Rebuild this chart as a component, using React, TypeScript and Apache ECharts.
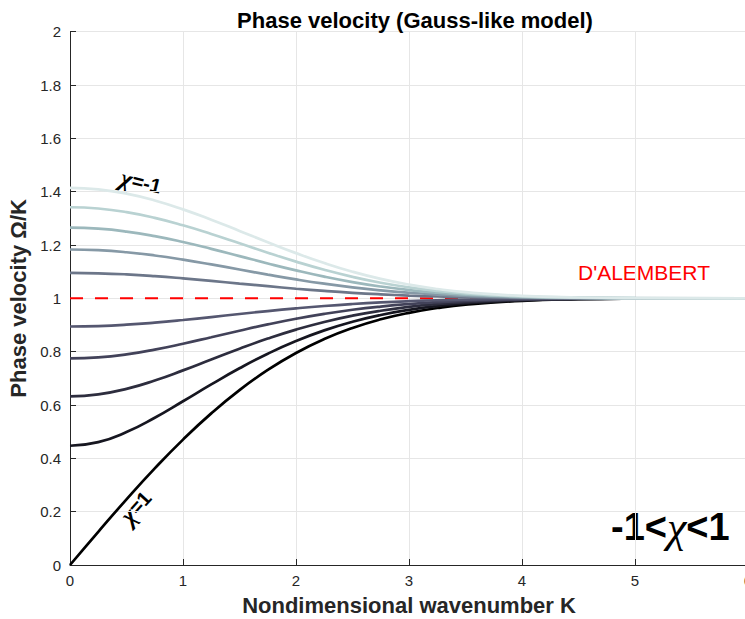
import React, { useEffect, useRef } from 'react';
import * as echarts from 'echarts';

// Nondimensional wavenumber samples
const K = [0, 0.25, 0.5, 0.75, 1, 1.25, 1.5, 1.75, 2, 2.25, 2.5, 2.75, 3, 3.25, 3.5, 4, 4.5, 5, 6];

// Phase velocity Ω/K, one array per χ
const vChiM10 = [1.4142, 1.4087, 1.3926, 1.3671, 1.3337, 1.2949, 1.2529, 1.2104, 1.1696, 1.1323, 1.0998, 1.0728, 1.0514, 1.035, 1.0231, 1.0091, 1.0032, 1.001, 1.0001];
const vChiM08 = [1.3416, 1.337, 1.3235, 1.302, 1.274, 1.2415, 1.2066, 1.1713, 1.1377, 1.1071, 1.0806, 1.0586, 1.0413, 1.0281, 1.0185, 1.0073, 1.0025, 1.0008, 1.0];
const vChiM06 = [1.2649, 1.2612, 1.2505, 1.2334, 1.2113, 1.1857, 1.1584, 1.1309, 1.1049, 1.0813, 1.061, 1.0443, 1.0311, 1.0212, 1.0139, 1.0055, 1.0019, 1.0006, 1.0];
const vChiM04 = [1.1832, 1.1806, 1.1729, 1.1608, 1.1452, 1.1272, 1.1081, 1.089, 1.071, 1.0549, 1.0411, 1.0298, 1.0209, 1.0142, 1.0093, 1.0037, 1.0013, 1.0004, 1.0];
const vChiM02 = [1.0954, 1.094, 1.0899, 1.0834, 1.075, 1.0655, 1.0554, 1.0455, 1.0361, 1.0278, 1.0207, 1.015, 1.0105, 1.0071, 1.0047, 1.0018, 1.0006, 1.0002, 1.0];
const vChiP02 = [0.8944, 0.8962, 0.9012, 0.909, 0.9188, 0.9299, 0.9413, 0.9524, 0.9625, 0.9714, 0.9788, 0.9848, 0.9894, 0.9928, 0.9953, 0.9982, 0.9994, 0.9998, 1.0];
const vChiP04 = [0.7746, 0.7786, 0.7901, 0.8078, 0.8298, 0.854, 0.8787, 0.9022, 0.9235, 0.9419, 0.9572, 0.9693, 0.9787, 0.9856, 0.9906, 0.9963, 0.9987, 0.9996, 1.0];
const vChiP06 = [0.6325, 0.6398, 0.6606, 0.6919, 0.7299, 0.7707, 0.8112, 0.8491, 0.8828, 0.9115, 0.935, 0.9536, 0.9679, 0.9784, 0.9859, 0.9945, 0.9981, 0.9994, 1.0];
const vChiP08 = [0.4472, 0.4609, 0.4985, 0.5522, 0.614, 0.6772, 0.7377, 0.7924, 0.84, 0.88, 0.9123, 0.9377, 0.9569, 0.9711, 0.9811, 0.9926, 0.9975, 0.9992, 0.9999];
const vChiP10 = [0, 0.1245, 0.2462, 0.3622, 0.4703, 0.5686, 0.6559, 0.7314, 0.7951, 0.8473, 0.889, 0.9214, 0.9458, 0.9637, 0.9763, 0.9908, 0.9968, 0.999, 0.9999];

const chiValues = ['-1', '-0.8', '-0.6', '-0.4', '-0.2', '0.2', '0.4', '0.6', '0.8', '1'];
const curves = [vChiM10, vChiM08, vChiM06, vChiM04, vChiM02, vChiP02, vChiP04, vChiP06, vChiP08, vChiP10];

// D'Alembert reference line
const dalembertK = [0, 6];
const dalembertV = [1, 1];

// colours (bone-like map), same order as curves
const curveColors = ['#dce9e9', '#b9d2d2', '#9cb8bc', '#8699a6', '#6c7689', '#555770', '#424259', '#2d2d3e', '#161620', '#000000'];

const SANS = '"Liberation Sans", Arial, Helvetica, sans-serif';
const SERIF = '"Liberation Serif", "Times New Roman", serif';

export default function App() {
  const ref = useRef<HTMLDivElement>(null);

  useEffect(() => {
    if (!ref.current) return;
    const chart = echarts.init(ref.current, null, { renderer: 'svg' });

    const curveSeries = curves
      .map((vals, i) => ({
        type: 'line',
        name: 'χ=' + chiValues[i],
        data: K.map((k, j) => [k, vals[j]]),
        smooth: 0.5,
        symbol: 'none',
        silent: true,
        lineStyle: { color: curveColors[i], width: 2.7 },
      }))
      .reverse();

    const option: any = {
      animation: false,
      backgroundColor: '#ffffff',
      title: {
        text: 'Phase velocity (Gauss-like model)',
        left: 410,
        textAlign: 'center',
        top: 4,
        textStyle: { fontFamily: SANS, fontSize: 22, fontWeight: 'bold', color: '#000000' },
      },
      grid: {
        left: 70,
        top: 31.7,
        width: 678,
        height: 533.3,
        containLabel: false,
        outerBoundsMode: 'none',
      },
      xAxis: {
        type: 'value',
        min: 0,
        max: 6,
        interval: 1,
        name: 'Nondimensional wavenumber K',
        nameLocation: 'middle',
        nameGap: 29,
        nameTextStyle: { fontFamily: SANS, fontSize: 22, fontWeight: 'bold', color: '#262626' },
        axisLine: { show: true, onZero: false, lineStyle: { color: '#262626', width: 1 } },
        axisTick: { show: true, inside: true, length: 6, lineStyle: { color: '#262626' } },
        axisLabel: { fontFamily: SANS, fontSize: 15, color: '#262626', margin: 8, hideOverlap: false },
        splitLine: { show: true, lineStyle: { color: '#e6e6e6', width: 1 } },
      },
      yAxis: {
        type: 'value',
        min: 0,
        max: 2,
        interval: 0.2,
        name: 'Phase velocity Ω/K',
        nameLocation: 'middle',
        nameGap: 34,
        nameTextStyle: { fontFamily: SANS, fontSize: 22, fontWeight: 'bold', color: '#262626' },
        axisLine: { show: true, onZero: false, lineStyle: { color: '#262626', width: 1 } },
        axisTick: { show: true, inside: true, length: 6, lineStyle: { color: '#262626' } },
        axisLabel: { fontFamily: SANS, fontSize: 15, color: '#262626', margin: 9 },
        splitLine: { show: true, lineStyle: { color: '#e6e6e6', width: 1 } },
      },
      series: [
        {
          type: 'line',
          name: "D'Alembert",
          data: dalembertK.map((k, j) => [k, dalembertV[j]]),
          symbol: 'none',
          silent: true,
          lineStyle: { color: '#ff0000', width: 2, type: [13, 12] },
        },
        ...curveSeries,
      ],
      graphic: [
        {
          type: 'text',
          x: 141,
          y: 182,
          rotation: (-14 * Math.PI) / 180,
          style: {
            text: '{g|χ}{b|=-1}',
            align: 'center',
            verticalAlign: 'middle',
            rich: {
              g: { fontFamily: SERIF, fontStyle: 'italic', fontWeight: 'bold', fontSize: 25, fill: '#000' },
              b: { fontFamily: SANS, fontWeight: 'bold', fontSize: 20, fill: '#000' },
            },
          },
        },
        {
          type: 'text',
          x: 136,
          y: 507,
          rotation: (48 * Math.PI) / 180,
          style: {
            text: '{g|χ}{b|=1}',
            align: 'center',
            verticalAlign: 'middle',
            rich: {
              g: { fontFamily: SERIF, fontStyle: 'italic', fontWeight: 'bold', fontSize: 25, fill: '#000' },
              b: { fontFamily: SANS, fontWeight: 'bold', fontSize: 20, fill: '#000' },
            },
          },
        },
        {
          type: 'text',
          x: 578,
          y: 272,
          style: {
            text: "D'ALEMBERT",
            fontFamily: SANS,
            fontSize: 21,
            fill: '#ff0000',
            align: 'left',
            verticalAlign: 'middle',
          },
        },
        {
          type: 'text',
          x: 611,
          y: 527,
          style: {
            text: '{b|-1<}{g|χ}{b|<1}',
            align: 'left',
            verticalAlign: 'middle',
            rich: {
              b: { fontFamily: SANS, fontWeight: 'bold', fontSize: 38, fill: '#000' },
              g: { fontFamily: SERIF, fontStyle: 'italic', fontSize: 44, fill: '#000' },
            },
          },
        },
      ],
    };

    chart.setOption(option);
    return () => chart.dispose();
  }, []);

  return (
    <div
      ref={ref}
      style={{ position: 'fixed', left: 0, top: 0, width: 745, height: 619, background: '#fff' }}
    />
  );
}
